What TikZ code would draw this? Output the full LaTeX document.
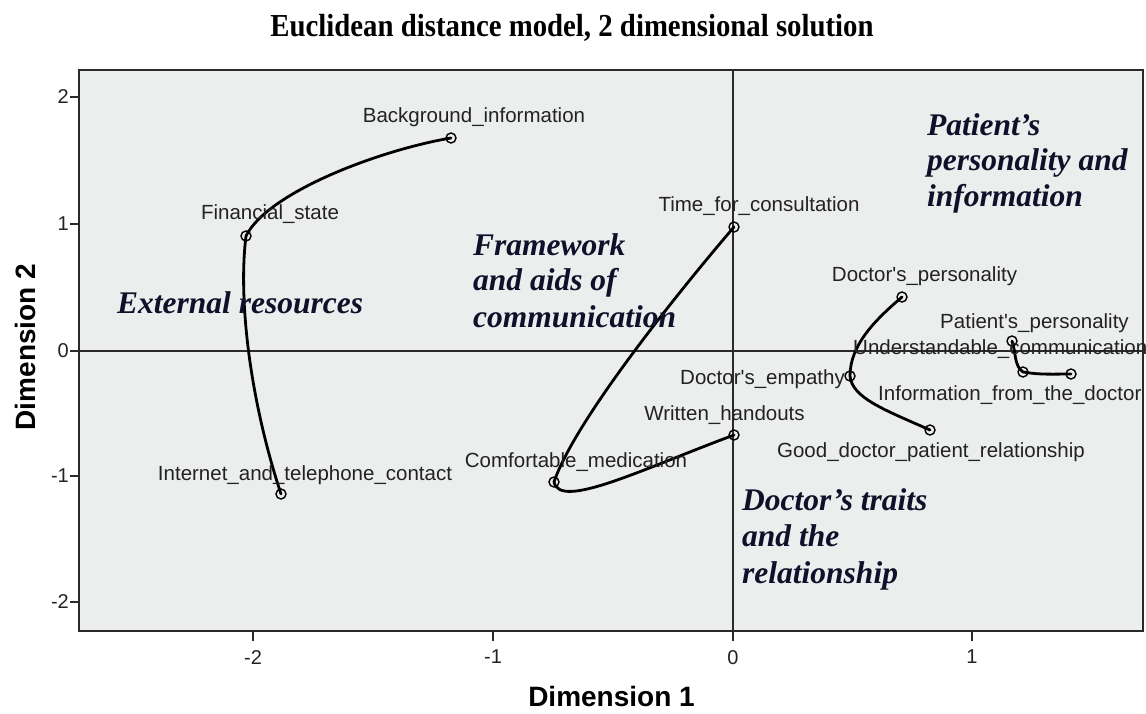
\documentclass[tikz,border=0pt]{standalone}
\usepackage{fontspec}
\newfontfamily\labfont{Liberation Sans}
\newfontfamily\serfont{Liberation Serif}
\definecolor{plotbg}{HTML}{ECEDED}
\definecolor{framecol}{HTML}{2A2A2A}
\definecolor{labcol}{HTML}{222222}
\definecolor{grpcol}{HTML}{10102A}
\tikzset{
  mk/.style={circle,draw=black,line width=1.4pt,inner sep=0pt,minimum size=10pt},
  curv/.style={line width=2.8pt,line cap=round,line join=round},
  lab/.style={font=\labfont\fontsize{20.5}{24}\selectfont,text=labcol,inner sep=0pt},
  grp/.style={font=\serfont\bfseries\itshape\fontsize{31.5}{36}\selectfont,text=grpcol,inner sep=0pt,anchor=base west},
  tickl/.style={font=\labfont\fontsize{20}{24}\selectfont,text=labcol,inner sep=0pt},
  axl/.style={font=\labfont\bfseries\fontsize{28}{32}\selectfont,text=black,inner sep=0pt,anchor=base},
}
\begin{document}
\begin{tikzpicture}[x=1pt,y=-1pt]
\useasboundingbox[fill=white] (0,0) rectangle (1146,714);
% title
\node[anchor=base,inner sep=0pt] (title) at (572,37) {\scalebox{0.9}[1]{\serfont\bfseries\fontsize{32}{36}\selectfont Euclidean distance model, 2 dimensional solution}};
% frame
\fill[plotbg] (79,70) rectangle (1143,631);
\draw[framecol,line width=1.6pt] (733,70) -- (733,631);
\draw[framecol,line width=1.6pt] (79,351) -- (1143,351);
\draw[framecol,line width=2.4pt] (79,70) rectangle (1143,631);
% ticks
\foreach \yy/\tx in {97/2,224/1,351/0,476/-1,602/-2}{
  \draw[framecol,line width=1.5pt] (70,\yy) -- (79,\yy);
  \node[tickl,anchor=east] at (69,\yy) {\tx};
}
\foreach \xx/\tx in {253/-2,493/-1,733/0,972/1}{
  \draw[framecol,line width=1.5pt] (\xx,631) -- (\xx,641);
  \node[tickl,anchor=north] at (\xx,650) {\tx};
}
\node[axl] (d1) at (611.5,706) {Dimension 1};
\node[axl,rotate=90] (d2) at (35,347) {Dimension 2};
% markers
\node[mk] (BI) at (451,138) {};
\node[mk] (FS) at (246,236) {};
\node[mk] (IT) at (281,494) {};
\node[mk] (TC) at (734,227) {};
\node[mk] (CM) at (554,482) {};
\node[mk] (WH) at (734,435) {};
\node[mk] (DP) at (902,297) {};
\node[mk] (DE) at (850,376) {};
\node[mk] (GD) at (930,430) {};
\node[mk] (PP) at (1012,341) {};
\node[mk] (UC) at (1023,372) {};
\node[mk] (IF) at (1071,374) {};
% curves
\draw[curv] (BI.center) .. controls (380,150) and (268,192) .. (FS.center) .. controls (238,300) and (250,400) .. (IT.center);
\draw[curv] (TC.center) .. controls (680,290) and (575,420) .. (CM.center) .. controls (560,510) and (640,470) .. (WH.center);
\draw[curv] (DP.center) .. controls (875,320) and (850,345) .. (DE.center) .. controls (852,398) and (885,410) .. (GD.center);
\draw[curv] (PP.center) .. controls (1016,352) and (1014,366) .. (UC.center) .. controls (1040,375) and (1055,374) .. (IF.center);
% point labels
\node[lab,anchor=base] (lBI) at (474,123) {Background\_information};
\node[lab,anchor=base] (lFS) at (270,220) {Financial\_state};
\node[lab,anchor=base] (lIT) at (305,480) {Internet\_and\_telephone\_contact};
\node[lab,anchor=base] (lTC) at (759,212) {Time\_for\_consultation};
\node[lab,anchor=base] (lCM) at (576,467) {Comfortable\_medication};
\node[lab,anchor=base] (lWH) at (724.5,420) {Written\_handouts};
\node[lab,anchor=base east] (lDE) at (845,384) {Doctor's\_empathy};
\node[lab,anchor=base] (lDP) at (924.5,281) {Doctor's\_personality};
\node[lab,anchor=base] (lPP) at (1034.5,328) {Patient's\_personality};
\node[lab,anchor=base west] (lUC) at (853,354) {Understandable\_communication};
\node[lab,anchor=base west] (lIF) at (878,400) {Information\_from\_the\_doctor};
\node[lab,anchor=base] (lGD) at (931,457) {Good\_doctor\_patient\_relationship};
% group labels
\node[grp] (g1) at (117,313) {External resources};
\node[grp] (g2a) at (473,255) {Framework};
\node[grp] (g2b) at (473,290) {and aids of};
\node[grp] (g2c) at (473,327) {communication};
\node[grp] (g3a) at (927,136) {Patient’s};
\node[grp] (g3b) at (927,171) {personality and};
\node[grp] (g3c) at (927,207) {information};
\node[grp] (g4a) at (742,510) {Doctor’s traits};
\node[grp] (g4b) at (742,546) {and the};
\node[grp] (g4c) at (742,583) {relationship};
\end{tikzpicture}
\end{document}
